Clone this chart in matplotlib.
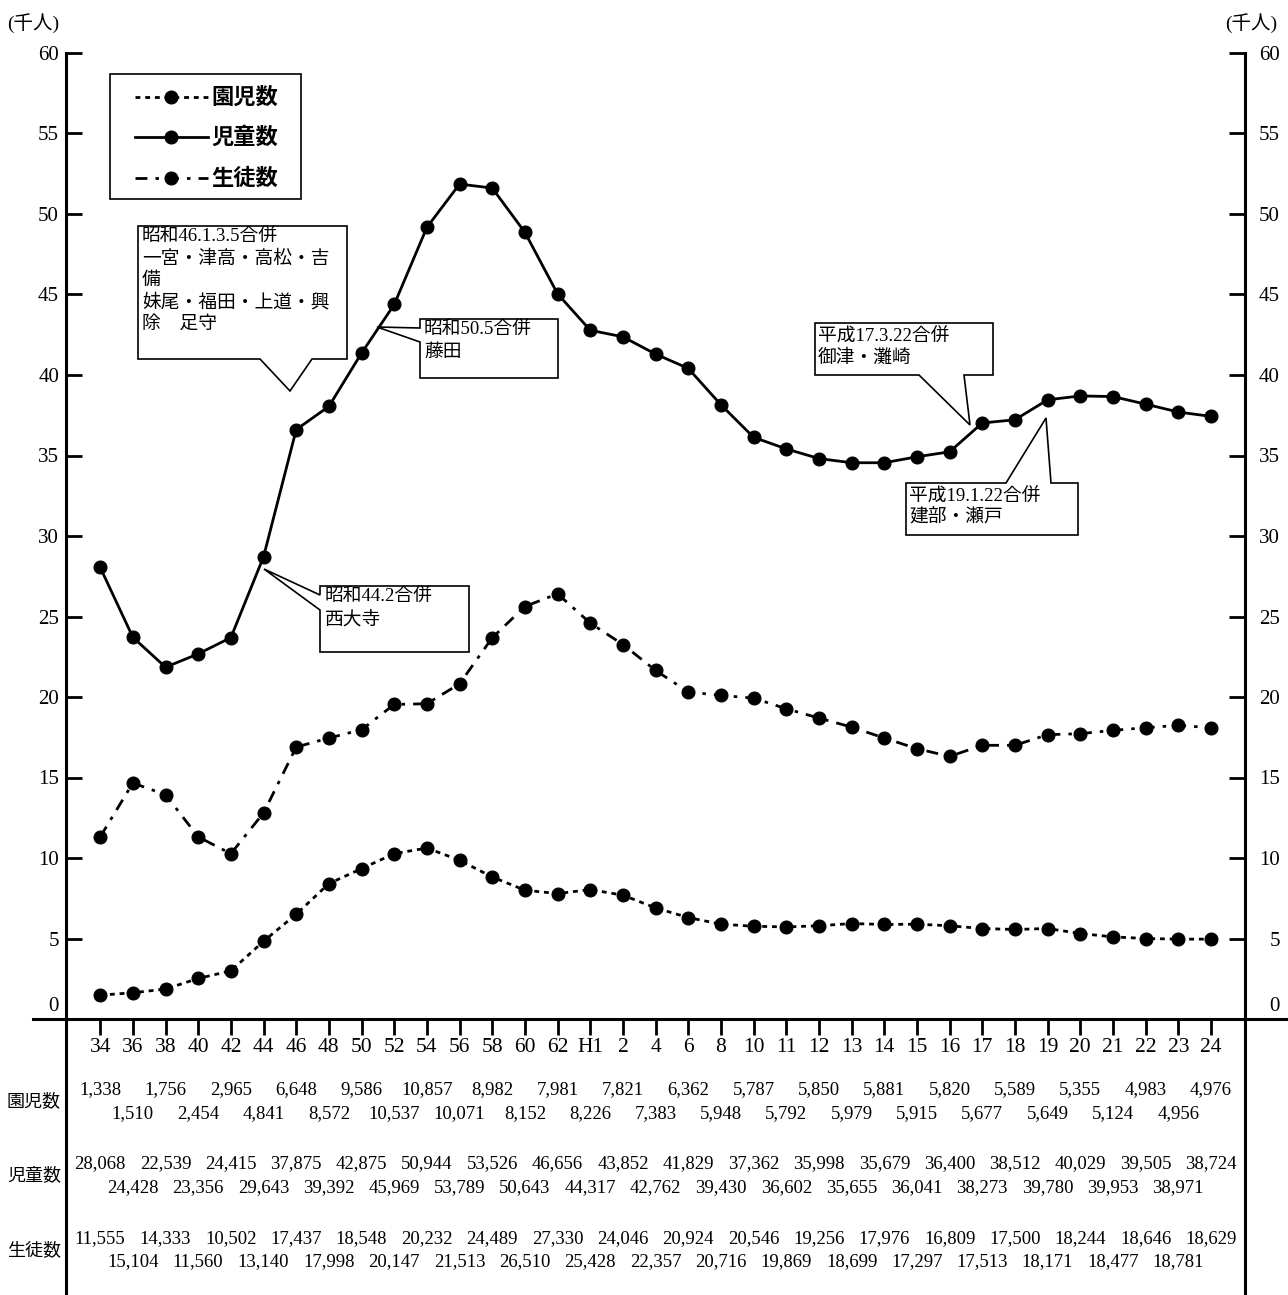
import matplotlib
matplotlib.use('Agg')
import matplotlib.pyplot as plt
import matplotlib.transforms as mtransforms
from matplotlib.lines import Line2D
from matplotlib.patches import Polygon, Rectangle

plt.rcParams['lines.scale_dashes'] = False

# ---------------- data ----------------
years = ['34', '36', '38', '40', '42', '44', '46', '48', '50', '52', '54', '56', '58', '60', '62',
         'H1', '2', '4', '6', '8', '10', '11', '12', '13', '14', '15', '16', '17', '18', '19',
         '20', '21', '22', '23', '24']

# plotted values (thousand persons)
enji = [1.48, 1.63, 1.86, 2.52, 2.99, 4.83, 6.51, 8.41, 9.34, 10.27,
        10.62, 9.86, 8.82, 8.00, 7.79, 8.04, 7.69, 6.90, 6.30, 5.89,
        5.76, 5.72, 5.79, 5.93, 5.87, 5.89, 5.79, 5.62, 5.56, 5.62,
        5.31, 5.10, 5.00, 4.96, 4.96]
jido = [28.05, 23.71, 21.85, 22.68, 23.69, 28.71, 36.61, 38.05, 41.36, 44.38,
        49.17, 51.86, 51.61, 48.86, 45.04, 42.78, 42.37, 41.30, 40.41, 38.15,
        36.13, 35.41, 34.81, 34.55, 34.55, 34.92, 35.23, 37.02, 37.22, 38.46,
        38.70, 38.66, 38.19, 37.70, 37.43]
seito = [11.31, 14.66, 13.93, 11.31, 10.27, 12.80, 16.89, 17.45, 17.97, 19.54,
         19.58, 20.82, 23.68, 25.62, 26.41, 24.59, 23.26, 21.65, 20.31, 20.10,
         19.93, 19.27, 18.69, 18.13, 17.45, 16.79, 16.31, 17.00, 17.00, 17.66,
         17.72, 17.93, 18.09, 18.24, 18.09]

# table values (persons)
enji_tbl = ["1,338", "1,510", "1,756", "2,454", "2,965", "4,841", "6,648", "8,572", "9,586", "10,537",
            "10,857", "10,071", "8,982", "8,152", "7,981", "8,226", "7,821", "7,383", "6,362", "5,948",
            "5,787", "5,792", "5,850", "5,979", "5,881", "5,915", "5,820", "5,677", "5,589", "5,649",
            "5,355", "5,124", "4,983", "4,956", "4,976"]
jido_tbl = ["28,068", "24,428", "22,539", "23,356", "24,415", "29,643", "37,875", "39,392", "42,875", "45,969",
            "50,944", "53,789", "53,526", "50,643", "46,656", "44,317", "43,852", "42,762", "41,829", "39,430",
            "37,362", "36,602", "35,998", "35,655", "35,679", "36,041", "36,400", "38,273", "38,512", "39,780",
            "40,029", "39,953", "39,505", "38,971", "38,724"]
seito_tbl = ["11,555", "15,104", "14,333", "11,560", "10,502", "13,140", "17,437", "17,998", "18,548", "20,147",
             "20,232", "21,513", "24,489", "26,510", "27,330", "25,428", "24,046", "22,357", "20,924", "20,716",
             "20,546", "19,869", "19,256", "18,699", "17,976", "17,297", "16,809", "17,513", "17,500", "18,171",
             "18,244", "18,477", "18,646", "18,781", "18,629"]

series_names = ['園児数', '児童数', '生徒数']
yticks = list(range(0, 61, 5))

# ---------------- layout ----------------
W, H = 1288, 1295
fig = plt.figure(figsize=(W / 100, H / 100), dpi=100)


def fx(px):
    return px / W


def fy(py):
    return 1 - py / H


AX_L, AX_R, AX_T, AX_B = 66, 1245, 53, 1019
X0, DX = 100.2, 32.67

SERIF = 'Liberation Serif'
JP = 'Noto Sans CJK JP'
MIX = [SERIF, JP]

ax = fig.add_axes([fx(AX_L), fy(AX_B), (AX_R - AX_L) / W, (AX_B - AX_T) / H])
ax.set_xlim((AX_L - X0) / DX, (AX_R - X0) / DX)
ax.set_ylim(0, 60)
for s in ax.spines.values():
    s.set_visible(False)
ax.patch.set_visible(False)

xs = list(range(len(years)))
MS = 9.3
MEW = 0.8
ax.plot(xs, enji, color='black', lw=2, dashes=(3.5, 3.5), marker='o', ms=MS, mew=MEW, zorder=3, clip_on=False)
ax.plot(xs, jido, color='black', lw=2, ls='-', marker='o', ms=MS, mew=MEW, zorder=3, clip_on=False)
ax.plot(xs, seito, color='black', lw=2, dashes=(8.6, 5.8, 2.5, 5.8), marker='o', ms=MS, mew=MEW,
        zorder=3, clip_on=False)

# x axis ticks
ax.set_xticks(xs)
ax.set_xticklabels(years, fontfamily=SERIF, fontsize=15.5)
ax.tick_params(axis='x', direction='out', length=11.5, width=2, pad=2.5, colors='black')

# left y ticks
ylabels = [''] + [str(v) for v in yticks[1:]]
ax.set_yticks(yticks)
ax.set_yticklabels(ylabels, fontfamily=SERIF, fontsize=15)
ax.tick_params(axis='y', direction='in', length=11.5, width=2, pad=5)

# right y ticks
ax2 = ax.twinx()
ax2.set_ylim(0, 60)
for s in ax2.spines.values():
    s.set_visible(False)
ax2.set_yticks(yticks)
ax2.set_yticklabels(ylabels, fontfamily=SERIF, fontsize=15, ha='right')
ax2.tick_params(axis='y', direction='in', length=11.5, width=2, pad=25)

# zero labels (drawn above the axis line)
fig.text(fx(59), fy(1006.5), '0', ha='right', va='center', fontsize=15, family=SERIF)
fig.text(fx(1280), fy(1006.5), '0', ha='right', va='center', fontsize=15, family=SERIF)

# axis lines
LW_AX = 2.2
fig.add_artist(Line2D([fx(33), fx(1288)], [fy(AX_B), fy(AX_B)], color='black', lw=LW_AX))
fig.add_artist(Line2D([fx(AX_L), fx(AX_L)], [fy(AX_T), fy(1295)], color='black', lw=LW_AX))
fig.add_artist(Line2D([fx(AX_R), fx(AX_R)], [fy(AX_T), fy(1295)], color='black', lw=LW_AX))

# unit labels
fig.text(fx(7), fy(23), '(千人)', ha='left', va='center', fontsize=14, family=MIX)
fig.text(fx(1277), fy(23), '(千人)', ha='right', va='center', fontsize=14, family=MIX)

# ---------------- data table ----------------
trans = mtransforms.blended_transform_factory(ax.transData, fig.transFigure)
row_y = [(1090, 1114), (1164, 1188), (1239, 1262)]
label_y = [1101, 1175, 1250]
for k, tbl in enumerate([enji_tbl, jido_tbl, seito_tbl]):
    for i, s in enumerate(tbl):
        ax.text(i, fy(row_y[k][i % 2]), s, transform=trans, ha='center', va='center',
                fontsize=13.5, family=SERIF, clip_on=False)
    fig.text(fx(7), fy(label_y[k]), series_names[k], ha='left', va='center', fontsize=13, family=JP)

# ---------------- legend ----------------
fig.add_artist(Rectangle((fx(110), fy(199)), (301 - 110) / W, (199 - 74) / H,
                         fill=False, edgecolor='black', lw=1.2))
leg_styles = [dict(dashes=(3.5, 3.5)), dict(ls='-'), dict(dashes=(8.6, 5.8, 2.5, 5.8))]
leg_y = [97, 137, 178]
for st, yy, name in zip(leg_styles, leg_y, series_names):
    fig.add_artist(Line2D([fx(135), fx(208)], [fy(yy), fy(yy)], color='black', lw=2, **st))
    fig.add_artist(Line2D([fx(171)], [fy(yy)], color='black', ls='none', marker='o', ms=MS, mew=MEW))
    fig.text(fx(211), fy(yy), name, ha='left', va='center', fontsize=16, fontweight='bold', family=JP)

# ---------------- callouts ----------------
callouts = [
    ([(138, 226), (347, 226), (347, 359), (312, 359), (290, 391), (260, 359), (138, 359)],
     142, ['昭和46.1.3.5合併', '一宮・津高・高松・吉', '備', '妹尾・福田・上道・興', '除　足守'],
     [237.7, 259.3, 280.7, 302.7, 324.7]),
    ([(420, 319), (558, 319), (558, 378), (420, 378), (420, 342), (377, 327), (420, 328)],
     424, ['昭和50.5合併', '藤田'], [330.5, 352.5]),
    ([(320, 586), (469, 586), (469, 652), (320, 652), (320, 610), (264, 569), (320, 595)],
     325, ['昭和44.2合併', '西大寺'], [597.3, 620]),
    ([(815, 323), (993, 323), (993, 375), (964, 375), (970, 425), (919, 375), (815, 375)],
     818, ['平成17.3.22合併', '御津・灘崎'], [336.7, 358.3]),
    ([(906, 483), (1006, 483), (1046, 418), (1051, 483), (1078, 483), (1078, 535), (906, 535)],
     909, ['平成19.1.22合併', '建部・瀬戸'], [496.7, 517]),
]
for pts, tx, lines, tys in callouts:
    fig.add_artist(Polygon([(fx(a), fy(b)) for a, b in pts], closed=True,
                           facecolor='white', edgecolor='black', lw=1.2, zorder=4))
    for line, ty in zip(lines, tys):
        fig.text(fx(tx), fy(ty), line, ha='left', va='center', fontsize=13.5, family=MIX, zorder=5)

fig.savefig('out.png', dpi=100)
